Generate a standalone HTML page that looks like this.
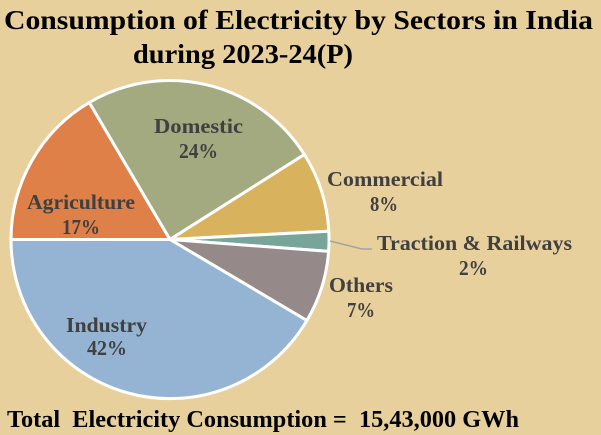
<!DOCTYPE html>
<html>
<head>
<meta charset="utf-8">
<style>
html,body{margin:0;padding:0;background:#E8D09D;}
svg{display:block;}
text{font-family:"Liberation Serif","DejaVu Serif",serif;font-weight:bold;}
.t{fill:#000;}
.l{fill:#404040;font-size:21px;}
</style>
</head>
<body>
<svg width="601" height="435" viewBox="0 0 601 435" xmlns="http://www.w3.org/2000/svg">
<rect width="601" height="435" fill="#E8D09D"/>
<text class="t" x="4" y="29" font-size="27" textLength="589" lengthAdjust="spacingAndGlyphs">Consumption of Electricity by Sectors in India</text>
<text class="t" x="133" y="63" font-size="27" textLength="220" lengthAdjust="spacingAndGlyphs">during 2023-24(P)</text>

<g stroke="#FFFFFF" stroke-width="3" stroke-linejoin="round">
<path d="M170,239.5 L11,239.5 A159,159 0 0 1 89.3,102.5 Z" fill="#DE8048"/>
<path d="M170,239.5 L89.3,102.5 A159,159 0 0 1 304.4,154.5 Z" fill="#A3AA80"/>
<path d="M170,239.5 L304.4,154.5 A159,159 0 0 1 328.8,231.2 Z" fill="#D9B25D"/>
<path d="M170,239.5 L328.8,231.2 A159,159 0 0 1 328.6,251.4 Z" fill="#78A59A"/>
<path d="M170,239.5 L328.6,251.4 A159,159 0 0 1 306.9,320.5 Z" fill="#958A89"/>
<path d="M170,239.5 L306.9,320.5 A159,159 0 0 1 11,239.5 Z" fill="#95B4D3"/>
</g>
<polyline points="330,241 362,249 372,249" fill="none" stroke="#A0A4A8" stroke-width="1.5"/>

<text class="l" x="154" y="133" textLength="89" lengthAdjust="spacingAndGlyphs">Domestic</text>
<text class="l" x="179" y="158" textLength="39" lengthAdjust="spacingAndGlyphs">24%</text>
<text class="l" x="27" y="209" textLength="108" lengthAdjust="spacingAndGlyphs">Agriculture</text>
<text class="l" x="62" y="234" textLength="38" lengthAdjust="spacingAndGlyphs">17%</text>
<text class="l" x="327" y="186" textLength="116" lengthAdjust="spacingAndGlyphs">Commercial</text>
<text class="l" x="370" y="211" textLength="28" lengthAdjust="spacingAndGlyphs">8%</text>
<text class="l" x="377" y="250" textLength="195" lengthAdjust="spacingAndGlyphs">Traction &amp; Railways</text>
<text class="l" x="459" y="275" textLength="29" lengthAdjust="spacingAndGlyphs">2%</text>
<text class="l" x="329" y="292" textLength="64" lengthAdjust="spacingAndGlyphs">Others</text>
<text class="l" x="347" y="317" textLength="28" lengthAdjust="spacingAndGlyphs">7%</text>
<text class="l" x="66" y="332" textLength="81" lengthAdjust="spacingAndGlyphs">Industry</text>
<text class="l" x="87" y="355" textLength="40" lengthAdjust="spacingAndGlyphs">42%</text>

<text class="t" x="7" y="427" font-size="24" textLength="512" lengthAdjust="spacingAndGlyphs" style="white-space:pre" xml:space="preserve">Total  Electricity Consumption =  15,43,000 GWh</text>
</svg>
</body>
</html>
